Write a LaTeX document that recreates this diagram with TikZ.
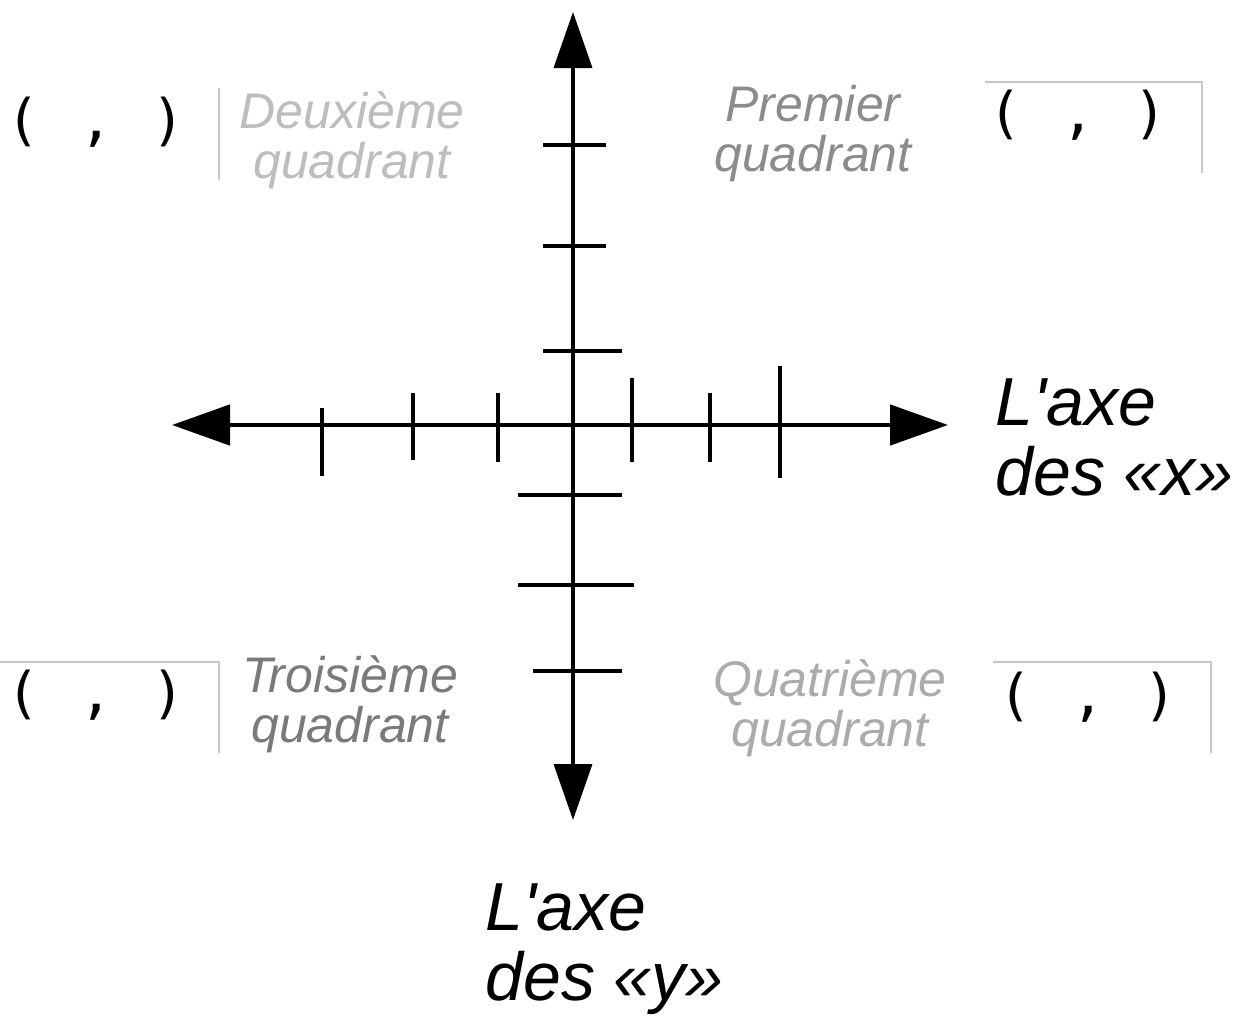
\documentclass[tikz,border=0pt]{standalone}
\usepackage{fontspec}
\setmainfont{Liberation Sans}
\newfontfamily\parenfont{DejaVu Sans Mono}
\usetikzlibrary{arrows.meta}
\definecolor{qA}{HTML}{BDBDBD}
\definecolor{qB}{HTML}{8C8C8C}
\definecolor{qC}{HTML}{7A7A7A}
\definecolor{qD}{HTML}{ABABAB}
\definecolor{boxline}{HTML}{C8C8C8}
\tikzset{
  axisx/.style={line width=2.4pt,{Triangle[length=29pt,width=20pt]}-{Triangle[length=29pt,width=20pt]}},
  axisy/.style={line width=1.8pt,{Triangle[length=28pt,width=19pt]}-{Triangle[length=28pt,width=19pt]}},
  tickmark/.style={line width=1.6pt},
  quadlabel/.style={font=\fontsize{25}{25}\selectfont\itshape, align=center, inner sep=0pt},
  axislabel/.style={font=\fontsize{34}{35}\selectfont\itshape, align=left, inner sep=0pt, anchor=west},
  coordtext/.style={font=\parenfont\fontsize{28}{28}\selectfont, inner sep=0pt},
  boxedge/.style={line width=0.6pt, color=boxline}
}
\begin{document}
\begin{tikzpicture}[x=0.5pt,y=-0.5pt]
\useasboundingbox (0,0) rectangle (1250,1017);
% axes
\coordinate (xl) at (172,425);
\coordinate (xr) at (948,425);
\coordinate (yt) at (573,12);
\coordinate (yb) at (573,820);
\draw[axisx] (xl) -- (xr);
\draw[axisy] (yt) -- (yb);
% x ticks
\draw[tickmark] (322,408) -- (322,476);
\draw[tickmark] (413,393) -- (413,460);
\draw[tickmark] (498,393) -- (498,462);
\draw[tickmark] (632,378) -- (632,462);
\draw[tickmark] (710,393) -- (710,462);
\draw[tickmark] (780,366) -- (780,478);
% y ticks
\draw[tickmark] (543,145) -- (606,145);
\draw[tickmark] (543,246) -- (606,246);
\draw[tickmark] (543,351) -- (622,351);
\draw[tickmark] (518,495) -- (622,495);
\draw[tickmark] (518,585) -- (634,585);
\draw[tickmark] (533,671) -- (622,671);
% quadrant labels
\node[quadlabel, text=qA] (q2) at (352,140) {Deuxième\\quadrant};
\node[quadlabel, text=qB] (q1) at (813,134) {Premier\\quadrant};
\node[quadlabel, text=qC] (q3) at (350,704) {Troisième\\quadrant};
\node[quadlabel, text=qD] (q4) at (830,708) {Quatrième\\quadrant};
% axis labels
\node[axislabel] (lx) at (995,437) {L\textquotesingle axe\\des «x»};
\node[axislabel] (ly) at (485,949) {L\textquotesingle axe\\des «y»};
% coordinate placeholders
\node[coordtext] (c2) at (96,122) {(\hspace{19.5pt},\hspace{19.5pt})};
\node[coordtext] (c1) at (1078,115) {(\hspace{19.5pt},\hspace{19.5pt})};
\node[coordtext] (c3) at (96,695) {(\hspace{19.5pt},\hspace{19.5pt})};
\node[coordtext] (c4) at (1088,697) {(\hspace{19.5pt},\hspace{19.5pt})};
% box edges
\draw[boxedge] (219,88) -- (219,180);
\draw[boxedge] (985,82) -- (1202,82) -- (1202,173);
\draw[boxedge] (0,662) -- (219,662) -- (219,753);
\draw[boxedge] (993,662) -- (1211,662) -- (1211,753);
\end{tikzpicture}
\end{document}
